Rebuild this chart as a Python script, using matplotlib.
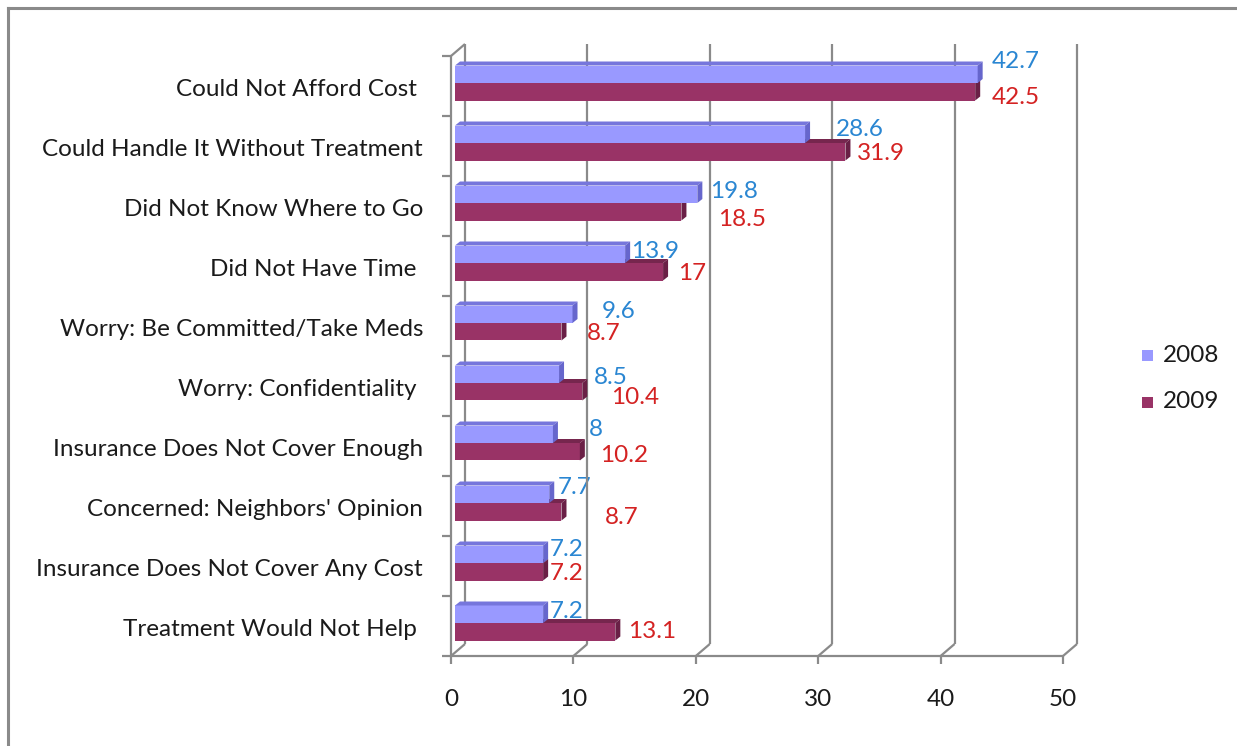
import matplotlib
matplotlib.use('Agg')
import matplotlib.pyplot as plt
from matplotlib.patches import Polygon, Rectangle
from matplotlib.lines import Line2D
from matplotlib.transforms import IdentityTransform

# reasons for not getting treatment, percent of respondents
categories = [
    "Could Not Afford Cost ",
    "Could Handle It Without Treatment",
    "Did Not Know Where to Go",
    "Did Not Have Time ",
    "Worry: Be Committed/Take Meds",
    "Worry: Confidentiality ",
    "Insurance Does Not Cover Enough",
    "Concerned: Neighbors' Opinion",
    "Insurance Does Not Cover Any Cost",
    "Treatment Would Not Help ",
]
values_2008 = [42.7, 28.6, 19.8, 13.9, 9.6, 8.5, 8, 7.7, 7.2, 7.2]
values_2009 = [42.5, 31.9, 18.5, 17, 8.7, 10.4, 10.2, 8.7, 7.2, 13.1]
series_names = ["2008", "2009"]
x_ticks = [0, 10, 20, 30, 40, 50]

# label nudges in pixels (dx from bar end, dy from row centre, downwards)
nudge_2008 = [(33, -24), (50, -17), (32, -15), (25, -15), (41, -15),
              (47, -9), (38, -17), (20, -18), (19, -16), (19, -15)]
nudge_2009 = [(36, 11), (30, 8), (56, 14), (24, 7), (37, 8),
              (48, 11), (39, 10), (55, 11), (19, 8), (32, 6)]

W, H = 1237, 746
plt.rcParams['font.family'] = ['Lato', 'DejaVu Sans']
FS = 17.5
TEXT = '#1a1a1a'
GRID = '#8a8a8a'
BACK = (14, 12)     # back wall offset, px
BAR_OFF = (4, 3)    # front face of the bars, px
DEPTH = (5, 4)      # bar thickness, px
FACE = {0: ('#9999ff', '#7676dc', '#6666cc'), 1: ('#993366', '#76264e', '#6a2046')}
LABEL_COLORS = ['#2a86d2', '#d42222']

fig = plt.figure(figsize=(W / 100, H / 100), dpi=100)
ax = fig.add_axes([451 / W, 1 - 656 / H, 612 / W, 600 / H])
n = len(categories)
ax.set_xlim(0, 50)
ax.set_ylim(n - 0.5, -0.5)
ax.axis('off')

ident = IdentityTransform()


def px(x, y, off=(0, 0)):
    p = ax.transData.transform((x, y))
    return p[0] + off[0], p[1] + off[1]


def seg(p, q, **kw):
    fig.add_artist(Line2D([p[0], q[0]], [p[1], q[1]], transform=ident,
                          color=GRID, lw=1.6, solid_capstyle='butt', **kw))


bottom, top = n - 0.5, -0.5

# back wall gridlines and the floor diagonals
for t in x_ticks:
    seg(px(t, bottom, BACK), px(t, top, BACK), zorder=1)
    seg(px(t, bottom), px(t, bottom, BACK), zorder=1)
    seg(px(t, bottom), px(t, bottom, (0, -8)), zorder=1)
seg(px(0, top), px(0, top, BACK), zorder=1)
# front axes
seg(px(0, bottom), px(50, bottom), zorder=1)
seg(px(0, bottom), px(0, top), zorder=1)
for k in range(n + 1):
    y = k - 0.5
    seg(px(0, y, (-9, 0)), px(0, y), zorder=1)

# bars, lower series first so the upper one covers its top face
h = 17.5 / 60
for s, vals in ((1, values_2009), (0, values_2008)):
    front, topc, side = FACE[s]
    for i, v in enumerate(vals):
        yc = i + (h / 2 if s == 1 else -h / 2)
        x0, yb = px(0, yc + h / 2, BAR_OFF)
        x1, yt = px(v, yc - h / 2, BAR_OFF)
        dx, dy = DEPTH
        fig.add_artist(Rectangle((x0, yb), x1 - x0, yt - yb, transform=ident,
                                 facecolor=front, edgecolor='none', zorder=2))
        fig.add_artist(Polygon([(x0, yt), (x1, yt), (x1 + dx, yt + dy), (x0 + dx, yt + dy)],
                               transform=ident, facecolor=topc, edgecolor='none', zorder=2))
        fig.add_artist(Polygon([(x1, yb), (x1, yt), (x1 + dx, yt + dy), (x1 + dx, yb + dy)],
                               transform=ident, facecolor=side, edgecolor='none', zorder=2))

# value labels
for s, (vals, nudges) in enumerate(((values_2008, nudge_2008), (values_2009, nudge_2009))):
    for i, (v, (ndx, ndy)) in enumerate(zip(vals, nudges)):
        ax.annotate(f"{v:g}", xy=(v, i), xytext=(ndx + 9, -ndy), textcoords='offset pixels',
                    ha='center', va='center', fontsize=FS, color=LABEL_COLORS[s],
                    annotation_clip=False)

# category and tick labels
for i, c in enumerate(categories):
    ax.annotate(c, xy=(0, i), xytext=(-28, -4), textcoords='offset pixels',
                ha='right', va='center', fontsize=FS, color=TEXT, annotation_clip=False)
for t in x_ticks:
    ax.annotate(str(t), xy=(t, bottom), xytext=(0, -43), textcoords='offset pixels',
                ha='center', va='center', fontsize=FS, color=TEXT, annotation_clip=False)

# legend
for s, name in enumerate(series_names):
    yy = 355 + 47 * s
    fig.add_artist(Rectangle((1142 / W, 1 - (yy + 6) / H), 11 / W, 11 / H,
                             transform=fig.transFigure, facecolor=FACE[s][0], edgecolor='none'))
    fig.text(1163 / W, 1 - yy / H, name, ha='left', va='center', fontsize=FS, color=TEXT)

# chart area border
fig.add_artist(Line2D([8 / W, 8 / W], [0, 1 - 8 / H], transform=fig.transFigure,
                      color='#8a8a8a', lw=2.2))
fig.add_artist(Line2D([8 / W, 1], [1 - 8 / H, 1 - 8 / H], transform=fig.transFigure,
                      color='#8a8a8a', lw=2.2))

fig.savefig('out.png', dpi=100, facecolor='white')
